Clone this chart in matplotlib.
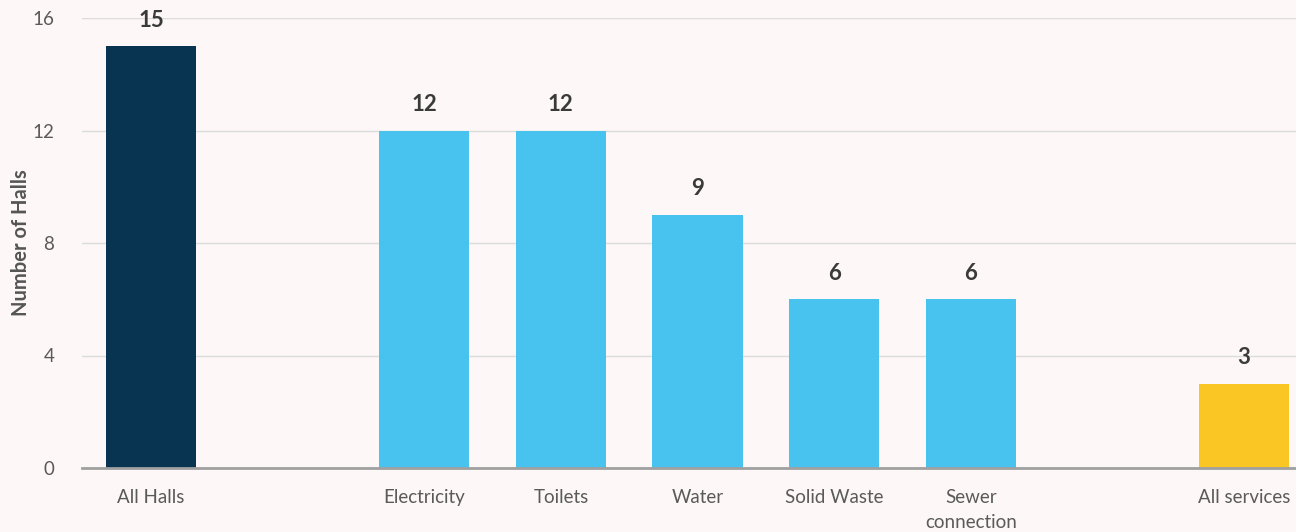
import matplotlib
matplotlib.use("Agg")
import matplotlib.pyplot as plt

categories = ["All Halls", "", "Electricity", "Toilets", "Water", "Solid Waste",
              "Sewer\nconnection", "", "All services"]
values = [15, None, 12, 12, 9, 6, 6, None, 3]
bar_colors = ["#083452", None, "#48c3f0", "#48c3f0", "#48c3f0", "#48c3f0",
              "#48c3f0", None, "#f9c624"]
y_ticks = [0, 4, 8, 12, 16]

plt.rcParams["font.family"] = ["Lato", "DejaVu Sans"]
bg = "#fdf7f7"

fig = plt.figure(figsize=(12.96, 5.32), dpi=100, facecolor=bg)
ax = fig.add_axes([82 / 1296, 64 / 532, 1 - 82 / 1296, (468 - 18) / 532])
ax.set_facecolor(bg)

for i, (v, c) in enumerate(zip(values, bar_colors)):
    if v is None:
        continue
    ax.bar(i, v, width=0.66, color=c, zorder=3)
    ax.text(i, v + 0.55, f"{v}", ha="center", va="bottom", fontsize=16,
            fontweight="bold", color="#3a3a3a", zorder=4)

ax.set_xlim(-0.505, 8.38)
ax.set_ylim(0, 16)
ax.set_yticks(y_ticks)
ax.set_yticklabels([str(t) for t in y_ticks], fontsize=13.5, color="#5a5a5a")
ax.set_xticks(range(len(categories)))
ax.set_xticklabels(categories, fontsize=13.5, color="#5a5a5a", va="top",
                   linespacing=1.55)
ax.tick_params(axis="both", length=0)
ax.tick_params(axis="x", pad=15)
ax.tick_params(axis="y", pad=20)

ax.grid(axis="y", color="#dcdcdc", linewidth=1, zorder=0)
for s in ["top", "right", "left"]:
    ax.spines[s].set_visible(False)
ax.spines["bottom"].set_color("#a0a0a0")
ax.spines["bottom"].set_linewidth(2)
ax.spines["bottom"].set_zorder(5)

fig.text(21 / 1296, 1 - 243 / 532, "Number of Halls", rotation=90,
         ha="center", va="center", fontsize=14.5, fontweight="bold",
         color="#555555")

fig.savefig("out.png", dpi=100, facecolor=bg)
